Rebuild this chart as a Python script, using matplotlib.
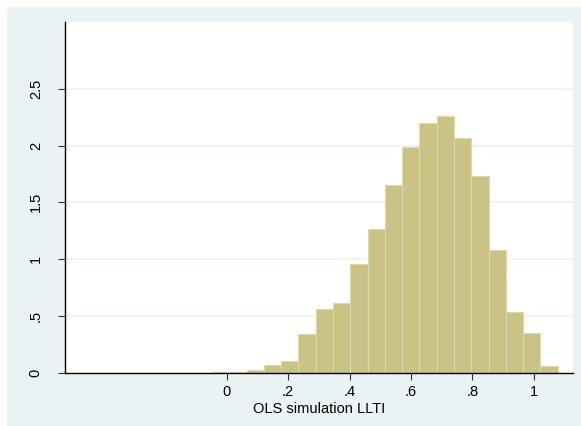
import numpy as np
import matplotlib
matplotlib.use("Agg")
import matplotlib.pyplot as plt
from matplotlib.patches import Rectangle

plt.rcParams["font.family"] = ["Liberation Sans", "DejaVu Sans"]

# histogram of simulated LLTI coefficient (density scale)
bin_start = -0.048
bin_width = 0.0563
densities = [0.004, 0.006, 0.026, 0.065, 0.097, 0.341, 0.559, 0.609, 0.953, 1.265,
             1.650, 1.985, 2.197, 2.262, 2.068, 1.729, 1.079, 0.532, 0.347, 0.059]
x_ticks = [0, 0.2, 0.4, 0.6, 0.8, 1.0]
x_labels = ["0", ".2", ".4", ".6", ".8", "1"]
y_ticks = [0, 0.5, 1, 1.5, 2, 2.5]
y_labels = ["0", ".5", "1", "1.5", "2", "2.5"]
x_label = "OLS simulation LLTI"

bg = "#EAF2F3"
bar_color = "#CBC386"

fig = plt.figure(figsize=(5.81, 4.26), dpi=100)
fig.patch.set_facecolor("white")
fig.patches.append(Rectangle((7 / 581, 0), 1, (426 - 7) / 426,
                             transform=fig.transFigure, facecolor=bg,
                             edgecolor="none", zorder=-10))

ax = fig.add_axes([65 / 581, (426 - 372.5) / 426, (573 - 65) / 581, (372.5 - 22) / 426])
ax.set_facecolor("white")

edges = bin_start + bin_width * np.arange(len(densities))
ax.bar(edges, densities, width=bin_width, align="edge", color=bar_color,
       edgecolor="#DDD9AE", linewidth=0.8, zorder=3)

ax.set_xlim(-0.527, 1.128)
ax.set_ylim(0, 3.09)
ax.set_xticks(x_ticks)
ax.set_xticklabels(x_labels)
ax.set_yticks(y_ticks)
ax.set_yticklabels(y_labels, rotation=90, va="center")

for y in y_ticks[1:]:
    ax.axhline(y, color=bg, linewidth=1.2, zorder=1)

for side in ["top", "right"]:
    ax.spines[side].set_visible(False)
for side in ["left", "bottom"]:
    ax.spines[side].set_color("black")
    ax.spines[side].set_linewidth(1.0)
    ax.spines[side].set_zorder(4)

ax.tick_params(axis="both", direction="out", length=5, width=0.8,
               colors="#333333", labelcolor="black", labelsize=10.5)
ax.tick_params(axis="x", pad=4)
ax.tick_params(axis="y", pad=11)
ax.set_xlabel(x_label, fontsize=10.5, labelpad=2)

fig.savefig("out.png", dpi=100, facecolor=fig.get_facecolor())
